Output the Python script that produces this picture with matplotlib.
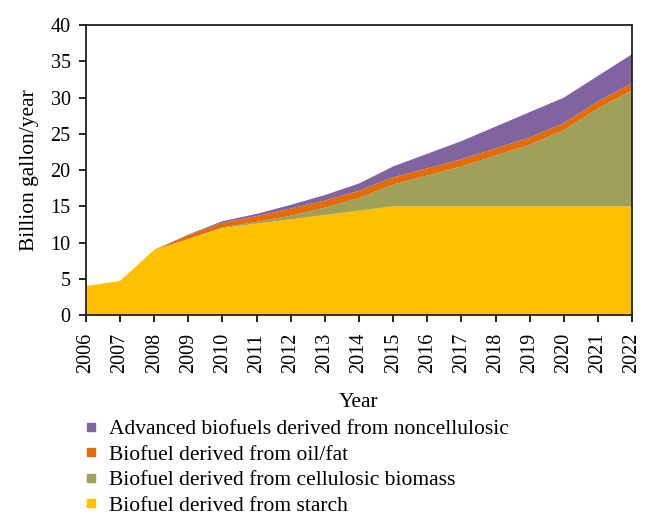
import matplotlib.pyplot as plt
from matplotlib.lines import Line2D
import numpy as np

# data (billion gallon/year)
years = np.arange(2006, 2023)
starch = [4.0, 4.7, 9.0, 10.5, 12.0, 12.6, 13.2, 13.8, 14.4, 15.0, 15.0, 15.0, 15.0, 15.0, 15.0, 15.0, 15.0]
cellulosic = [0, 0, 0, 0, 0.1, 0.25, 0.5, 1.0, 1.75, 3.0, 4.25, 5.5, 7.0, 8.5, 10.5, 13.5, 16.0]
oil_fat = [0, 0, 0, 0.5, 0.65, 0.8, 1.0, 1.0, 1.0, 1.0, 1.0, 1.0, 1.0, 1.0, 1.0, 1.0, 1.0]
noncellulosic = [0, 0, 0, 0.1, 0.2, 0.3, 0.5, 0.75, 1.0, 1.5, 2.0, 2.5, 3.0, 3.5, 3.5, 3.5, 4.0]

labels = ["Biofuel derived from starch",
          "Biofuel derived from cellulosic biomass",
          "Biofuel derived from oil/fat",
          "Advanced biofuels derived from noncellulosic"]
colors = ["#FFC000", "#A0A05A", "#E36C09", "#8064A2"]

plt.rcParams['font.family'] = ['Liberation Serif', 'DejaVu Serif']

fig = plt.figure(figsize=(6.51, 5.28), dpi=100)
ax = fig.add_axes([0.132, 0.4034, 0.839, 0.549])

ax.stackplot(years, starch, cellulosic, oil_fat, noncellulosic,
             colors=colors, linewidth=0)

ax.set_xlim(2006, 2022)
ax.set_ylim(0, 40)
ax.set_xticks(years)
ax.set_xticklabels([str(y) for y in years], rotation=90, fontsize=14.5)
ax.set_yticks(range(0, 41, 5))
ax.tick_params(axis='y', labelsize=14.5, direction='out', length=5, width=1.2, pad=6)
ax.tick_params(axis='x', direction='out', length=5, width=1.2, pad=8)
for s in ax.spines.values():
    s.set_linewidth(1.3)
    s.set_color('#222222')

ax.set_ylabel("Billion gallon/year", fontsize=15.5, labelpad=8)
ax.set_xlabel("Year", fontsize=15.5, labelpad=14)

handles = [Line2D([], [], marker='s', linestyle='none', markersize=6,
                  markerfacecolor=c, markeredgecolor=c) for c in colors[::-1]]
fig.legend(handles, labels[::-1], loc='upper left', bbox_to_anchor=(0.11, 0.222),
           frameon=False, fontsize=15.5, handletextpad=0.35, labelspacing=0.25,
           borderaxespad=0, handlelength=1.0)

fig.savefig("out.png", dpi=100)
plt.close()
